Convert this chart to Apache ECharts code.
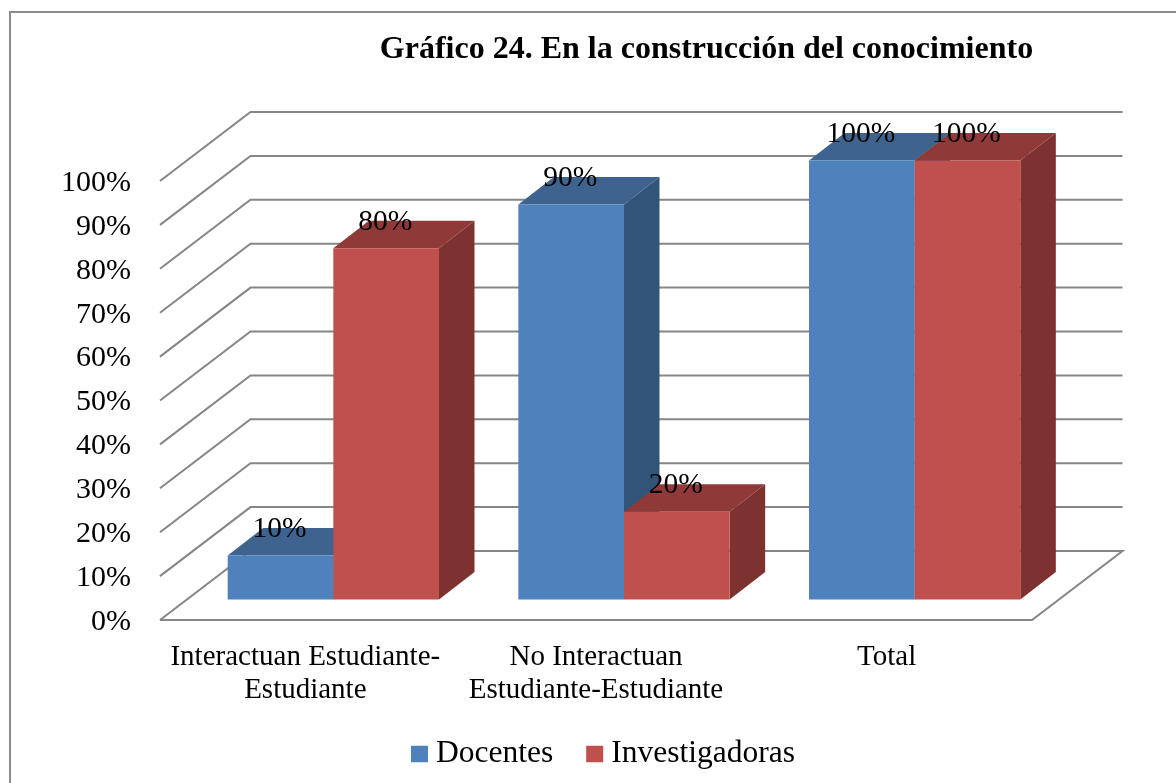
<!DOCTYPE html>
<html><head><meta charset="utf-8">
<style>html,body{margin:0;padding:0;background:#fff}#c{width:1176px;height:783px}</style>
<script src="https://cdn.jsdelivr.net/npm/echarts@6/dist/echarts.min.js"></script>
</head><body><div id="c"></div>
<script>
const titleText = 'Gráfico 24. En la construcción del conocimiento';
const categories = ['Interactuan Estudiante-\nEstudiante', 'No Interactuan\nEstudiante-Estudiante', 'Total'];
const docentes = [10, 90, 100];
const investigadoras = [80, 20, 100];
const gridTicks = [0, 10, 20, 30, 40, 50, 60, 70, 80, 90, 100];

const FONT = '"Liberation Serif","Times New Roman",serif';
const chart = echarts.init(document.getElementById('c'), null, {renderer: 'canvas'});

function wallItem(params, api) {
  const v = api.value(0);
  const cs = params.coordSys;
  const y = api.coord([0, v])[1];
  const x0 = cs.x, x1 = cs.x + cs.width;
  const dx = 90.5, dy = -69;
  const pts = [[x0, y], [x0 + dx, y + dy], [x1 + dx, y + dy]];
  if (v === 0) pts.push([x1, y], [x0, y]);
  return {type: 'polyline', shape: {points: pts},
    style: {stroke: '#868686', lineWidth: 2, fill: null}};
}

function barItem(side, faces) {
  return function (params, api) {
    const i = api.value(0), v = api.value(1);
    const top = api.coord([i, v]), base = api.coord([i, 0]);
    const w = api.size([1, 0])[0] * 0.3635;
    const ox = 28, oy = -20.5, dx = 35.5, dy = -27.5;
    const xc = top[0] + ox;
    const xl = side < 0 ? xc - w : xc, xr = xl + w;
    const yt = top[1] + oy, yb = base[1] + oy;
    const poly = (p, fill) => ({type: 'polygon', shape: {points: p}, style: {fill: fill}});
    return {type: 'group', children: [
      poly([[xr, yt], [xr + dx, yt + dy], [xr + dx, yb + dy], [xr, yb]], faces.side),
      poly([[xl, yt], [xl + dx, yt + dy], [xr + dx, yt + dy], [xr, yt]], faces.top),
      poly([[xl, yt], [xr, yt], [xr, yb], [xl, yb]], faces.front),
      {type: 'text', z2: 50, style: {x: (xl + xr) / 2 - 1, y: yt - 26, text: v + '%',
        font: '29.5px ' + FONT, fill: '#000', textAlign: 'center', textVerticalAlign: 'middle'}}
    ]};
  };
}

const blue = {front: '#4F81BD', top: '#3E638F', side: '#325479'};
const red = {front: '#C0504D', top: '#8F3A38', side: '#7D3230'};

chart.setOption({
  animation: false,
  backgroundColor: '#fff',
  title: {text: titleText, left: 701.5, top: 29, textAlign: 'center',
    textStyle: {fontFamily: FONT, fontSize: 32, fontWeight: 'bold', color: '#000'}},
  legend: {data: ['Docentes', 'Investigadoras'], top: 733, left: 406, itemWidth: 17, itemHeight: 16.5,
    itemGap: 33, icon: 'rect', textStyle: {fontFamily: FONT, fontSize: 31.5, color: '#000', padding: [0, 0, 0, 3]}},
  grid: {left: 160, right: 144, top: 181, bottom: 163, containLabel: false},
  xAxis: {type: 'category', data: categories, axisLine: {show: false}, axisTick: {show: false},
    axisLabel: {interval: 0, margin: 21, fontFamily: FONT, fontSize: 29, color: '#000', lineHeight: 33}},
  yAxis: {type: 'value', min: 0, max: 100, interval: 10, axisLine: {show: false}, axisTick: {show: false},
    splitLine: {show: false},
    axisLabel: {margin: 29, fontFamily: FONT, fontSize: 30, color: '#000', formatter: '{value}%',
      verticalAlign: 'top', lineHeight: 4}},
  graphic: [{type: 'rect', silent: true, z: -10, shape: {x: 10, y: 12, width: 1200, height: 800},
    style: {fill: null, stroke: '#8C8C8C', lineWidth: 2}}],
  series: [
    {type: 'custom', name: 'Paredes', silent: true, clip: false, z: 1,
      data: gridTicks.map(v => [v]), encode: {y: 0}, renderItem: wallItem},
    {type: 'custom', name: 'Docentes', clip: false, z: 2, itemStyle: {color: blue.front},
      data: docentes.map((v, i) => [i, v]), encode: {x: 0, y: 1}, renderItem: barItem(-1, blue)},
    {type: 'custom', name: 'Investigadoras', clip: false, z: 3, itemStyle: {color: red.front},
      data: investigadoras.map((v, i) => [i, v]), encode: {x: 0, y: 1}, renderItem: barItem(1, red)}
  ]
});
</script></body></html>
